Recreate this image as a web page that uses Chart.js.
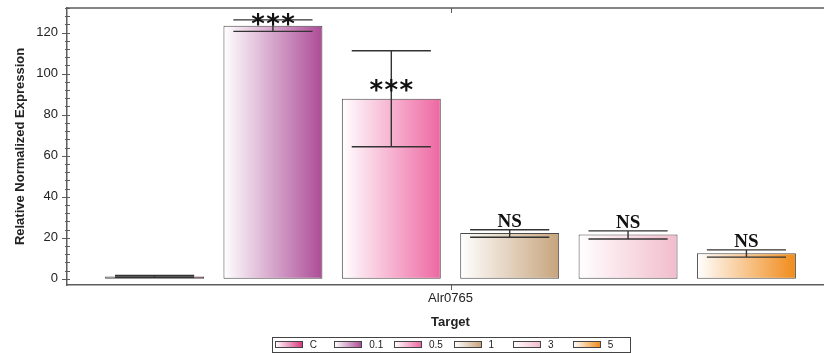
<!DOCTYPE html>
<html>
<head>
<meta charset="utf-8">
<script src="https://cdn.jsdelivr.net/npm/chart.js@4/dist/chart.umd.min.js"></script>
<style>
  html, body { margin: 0; padding: 0; overflow: hidden; background: #fff; }
  #wrap { position: relative; width: 842px; height: 353px; }
</style>
</head>
<body>
<div id="wrap"><canvas id="c"></canvas></div>
<script>
// Relative normalized expression of Alr0765 under each treatment
const target = ['Alr0765'];
const treatments = ['C', '0.1', '0.5', '1', '3', '5'];
const expression = [1.2, 123.4, 87.8, 22.3, 21.6, 12.5];
const errLow = [0.8, 120.6, 64.4, 20.3, 19.4, 10.6];
const errHigh = [1.6, 126.2, 111.2, 23.9, 23.4, 14.1];
const significance = ['', '***', '***', 'NS', 'NS', 'NS'];
const yTicks = [0, 20, 40, 60, 80, 100, 120];

const shades = ['#d8397e', '#ad4c97', '#ee67a2', '#c7a47d', '#f2bccc', '#f08b1a'];
const CAT_PCT = 0.926;
const BAR_PCT = 0.836;
const AXIS = '#5c5c5c';
const INK = '#333333';

// horizontal extent of bar i inside the single category
function barSpan(chart, i) {
  const xs = chart.scales.x;
  const group = xs.width * CAT_PCT;
  const slot = group / treatments.length;
  const left = xs.getPixelForValue(0) - group / 2 + i * slot + slot * (1 - BAR_PCT) / 2;
  return [left, left + slot * BAR_PCT];
}

function fadeFill(ctx) {
  const chart = ctx.chart;
  const i = ctx.datasetIndex;
  if (!chart.chartArea || !chart.scales.x) return shades[i];
  const [l, r] = barSpan(chart, i);
  const g = chart.ctx.createLinearGradient(l, 0, r, 0);
  g.addColorStop(0, '#ffffff');
  g.addColorStop(1, shades[i]);
  return g;
}

const datasets = treatments.map((name, i) => ({
  label: name,
  data: [expression[i]],
  backgroundColor: fadeFill,
  borderColor: '#4a4a4a',
  borderWidth: 1,
  borderSkipped: false,
  categoryPercentage: CAT_PCT,
  barPercentage: BAR_PCT
}));

// vertical lift of each significance mark above its anchor
const markLift = [0, 7, 14, 3, 3, 3];

const decor = {
  id: 'decor',
  afterDatasetsDraw(chart) {
    const { ctx, scales: { y } } = chart;
    ctx.save();
    chart.data.datasets.forEach((ds, i) => {
      const el = chart.getDatasetMeta(i).data[0];
      if (!el) return;
      const cx = el.x;
      const cap = el.width * 0.8 / 2;
      const yLo = y.getPixelForValue(errLow[i]);
      const yHi = y.getPixelForValue(errHigh[i]);
      ctx.strokeStyle = INK;
      ctx.lineWidth = 1.4;
      ctx.beginPath();
      ctx.moveTo(cx, yLo); ctx.lineTo(cx, yHi);
      ctx.moveTo(cx - cap, yLo); ctx.lineTo(cx + cap, yLo);
      ctx.moveTo(cx - cap, yHi); ctx.lineTo(cx + cap, yHi);
      ctx.stroke();

      const mark = significance[i];
      if (!mark) return;
      ctx.fillStyle = '#111';
      ctx.textAlign = 'center';
      if (mark === 'NS') {
        ctx.font = 'bold 19px "Liberation Serif"';
        ctx.textBaseline = 'alphabetic';
        ctx.fillText(mark, cx, yHi - markLift[i]);
      } else {
        const cy = el.y - markLift[i];
        ctx.font = 'bold 26px "DejaVu Sans"';
        ctx.textBaseline = 'alphabetic';
        [-15, 0, 15].forEach(dx => ctx.fillText('*', cx + dx, cy + 14));
      }
    });
    ctx.restore();
  },
  afterDraw(chart) {
    const { ctx, chartArea: a, scales: { x, y } } = chart;
    ctx.save();
    // frame line along the top
    ctx.strokeStyle = AXIS;
    ctx.lineWidth = 1.5;
    ctx.beginPath();
    ctx.moveTo(a.left, a.top); ctx.lineTo(chart.width, a.top);
    ctx.stroke();

    // y ticks: majors with labels, minors every 4
    ctx.lineWidth = 1;
    ctx.beginPath();
    for (let v = 0; v <= y.max; v += 4) {
      const py = Math.round(y.getPixelForValue(v)) + 0.5;
      if (v % 20 === 0) { ctx.moveTo(a.left - 5, py); ctx.lineTo(a.left + 3, py); }
      else { ctx.moveTo(a.left - 2, py); ctx.lineTo(a.left + 3, py); }
    }
    // category tick, bottom and top
    const cx = Math.round(x.getPixelForValue(0)) + 0.5;
    ctx.moveTo(cx, a.bottom); ctx.lineTo(cx, a.bottom + 5);
    ctx.moveTo(cx, a.top); ctx.lineTo(cx, a.top + 5);
    ctx.stroke();

    // legend strip
    const pitch = 59.6;
    const n = treatments.length;
    const boxL = x.getPixelForValue(0) - pitch * n / 2;
    const boxT = chart.height - 16;
    const boxH = 15;
    ctx.strokeStyle = '#444';
    ctx.lineWidth = 1;
    ctx.strokeRect(Math.round(boxL) + 0.5, boxT + 0.5, Math.round(pitch * n), boxH);
    ctx.font = '10px "Liberation Sans"';
    ctx.textAlign = 'left';
    ctx.textBaseline = 'middle';
    treatments.forEach((name, i) => {
      const sx = Math.round(boxL + i * pitch + 3) + 0.5;
      const sy = boxT + 4.5;
      const g = ctx.createLinearGradient(sx, 0, sx + 27, 0);
      g.addColorStop(0, '#ffffff');
      g.addColorStop(1, shades[i]);
      ctx.fillStyle = g;
      ctx.fillRect(sx, sy, 27, 6);
      ctx.strokeStyle = '#444';
      ctx.strokeRect(sx, sy, 27, 6);
      ctx.fillStyle = '#222';
      ctx.fillText(name, boxL + i * pitch + 38, boxT + 8);
    });
    ctx.restore();
  }
};

new Chart(document.getElementById('c'), {
  type: 'bar',
  data: { labels: target, datasets },
  options: {
    responsive: true,
    maintainAspectRatio: false,
    animation: false,
    layout: { padding: { top: 8, right: 8, bottom: 23, left: 0 } },
    plugins: { legend: { display: false }, tooltip: { enabled: false } },
    scales: {
      x: {
        type: 'category',
        offset: true,
        grid: { display: false, drawTicks: false },
        border: { display: true, color: AXIS, width: 1.5 },
        ticks: { color: '#222', padding: 6, font: { family: 'Liberation Sans', size: 13 } },
        title: {
          display: true, text: 'Target', color: '#222',
          font: { family: 'Liberation Sans', size: 13, weight: 'bold' },
          padding: { top: 0, bottom: 0 }
        },
        afterFit(scale) { scale.height = 45; scale.paddingLeft = 0; scale.paddingRight = 0; }
      },
      y: {
        min: -3,
        max: 132,
        grid: { display: false, drawTicks: false },
        border: { display: true, color: AXIS, width: 1.5 },
        ticks: { color: '#222', padding: 9, font: { family: 'Liberation Sans', size: 13 } },
        afterBuildTicks(scale) { scale.ticks = yTicks.map(v => ({ value: v })); },
        title: {
          display: true, text: 'Relative Normalized Expression', color: '#222',
          font: { family: 'Liberation Sans', size: 13, weight: 'bold' },
          padding: { top: 13, bottom: 0 }
        },
        afterFit(scale) { scale.width = 67; scale.paddingTop = 0; scale.paddingBottom = 0; }
      }
    }
  },
  plugins: [decor]
});
</script>
</body>
</html>
